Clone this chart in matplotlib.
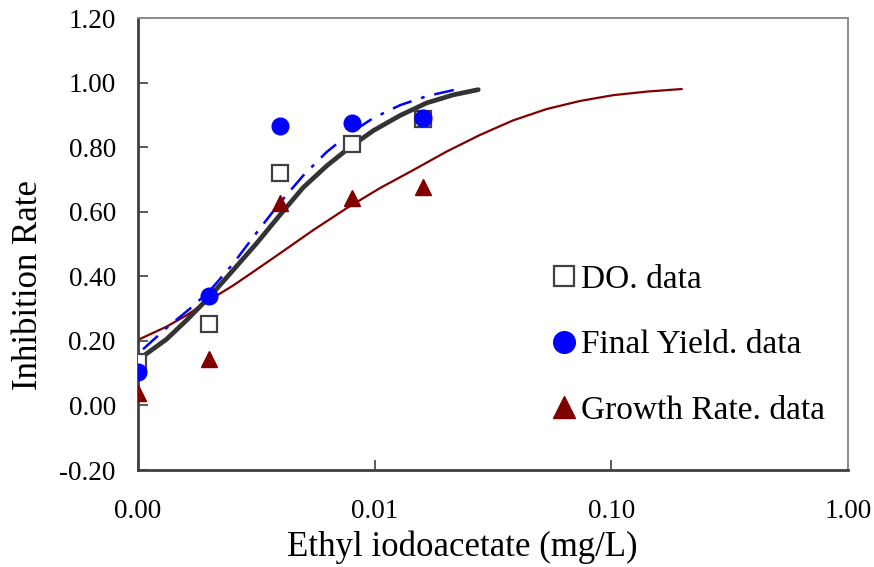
import numpy as np
import matplotlib
matplotlib.use("Agg")
import matplotlib.pyplot as plt
from matplotlib.ticker import FixedLocator, NullLocator

# Inhibition rate vs Ethyl iodoacetate concentration (log x)

plt.rcParams['font.family'] = ['Liberation Serif', 'DejaVu Serif']

# measured points
conc = [0.001, 0.002, 0.004, 0.008, 0.016]
do_data = [0.136, 0.252, 0.719, 0.810, 0.886]
yield_data = [0.105, 0.339, 0.866, 0.874, 0.891]
growth_data = [0.038, 0.144, 0.626, 0.642, 0.678]

# fitted curves
do_fit_x = [0.001, 0.00132, 0.00161, 0.00201, 0.00253, 0.00317, 0.00398, 0.00499,
            0.00627, 0.00787, 0.00986, 0.0128, 0.0166, 0.0215, 0.0274]
do_fit_y = [0.141, 0.205, 0.265, 0.337, 0.420, 0.502, 0.590, 0.675,
            0.742, 0.800, 0.851, 0.898, 0.937, 0.962, 0.978]

yield_fit_x = [0.00105, 0.00132, 0.00166, 0.00201, 0.00253, 0.00317, 0.00398, 0.00499,
               0.00627, 0.00787, 0.00986, 0.0128, 0.0166, 0.0222]
yield_fit_y = [0.174, 0.240, 0.300, 0.355, 0.440, 0.535, 0.628, 0.712,
               0.785, 0.843, 0.890, 0.930, 0.958, 0.979]

growth_fit_x = [0.001, 0.00132, 0.00161, 0.00201, 0.00253, 0.00317, 0.00398, 0.0055,
                0.00762, 0.01052, 0.01456, 0.0201, 0.0279, 0.0385, 0.0533, 0.0737,
                0.1019, 0.141, 0.198]
growth_fit_y = [0.203, 0.244, 0.280, 0.327, 0.372, 0.421, 0.471, 0.543,
                0.611, 0.673, 0.729, 0.786, 0.838, 0.883, 0.918, 0.943,
                0.961, 0.972, 0.980]

x_ticks = [0.001, 0.01, 0.1, 1.0]
x_labels = ["0.00", "0.01", "0.10", "1.00"]
y_ticks = [-0.20, 0.00, 0.20, 0.40, 0.60, 0.80, 1.00, 1.20]

fig = plt.figure(figsize=(8.74, 5.67), dpi=100)
ax = fig.add_axes([138 / 874, 1 - 470 / 567, 710 / 874, 452 / 567])

dark = "#404040"
red = "#800000"

# curves
ax.plot(growth_fit_x, growth_fit_y, color=red, lw=1.6, zorder=2)
ax.plot(do_fit_x, do_fit_y, color="#333333", lw=3.4, solid_capstyle="round",
        solid_joinstyle="round", zorder=3)
ax.plot(yield_fit_x, yield_fit_y, color="#0000ff", lw=1.8, ls=(0, (8, 4, 1.5, 4)), zorder=4)

# data points
ax.plot(conc, do_data, ls="none", marker="s", ms=11.5, mfc="white", mec=dark, mew=1.6,
        label="DO. data", zorder=5)
ax.plot(conc, yield_data, ls="none", marker="o", ms=12, mfc="#0000ff", mec="#0000ff",
        label="Final Yield. data", zorder=6)
ax.plot(conc, growth_data, ls="none", marker="^", ms=12, mfc=red, mec=red,
        label="Growth Rate. data", zorder=5)

ax.set_xscale("log")
ax.set_xlim(0.001, 1.0)
ax.set_ylim(-0.20, 1.20)
ax.xaxis.set_major_locator(FixedLocator(x_ticks))
ax.xaxis.set_minor_locator(NullLocator())
ax.set_xticklabels(x_labels)
ax.set_yticks(y_ticks)
ax.set_yticklabels(["%.2f" % v for v in y_ticks])

ax.tick_params(direction="in", length=7, width=1.2, color=dark, labelsize=19.5)
ax.tick_params(axis="y", pad=16)
ax.tick_params(axis="x", pad=21)

for s in ["left", "bottom"]:
    ax.spines[s].set_color(dark)
    ax.spines[s].set_linewidth(2)
for s in ["top", "right"]:
    ax.spines[s].set_color("#8c8c8c")
    ax.spines[s].set_linewidth(1.4)

ax.set_xlabel("Ethyl iodoacetate (mg/L)", fontsize=25)
ax.set_ylabel("Inhibition Rate", fontsize=25)
ax.xaxis.set_label_coords(0.456, -0.133)
ax.yaxis.set_label_coords(-0.131, 0.41)

ax.legend(loc="upper left", bbox_to_anchor=(0.565, 0.4845), frameon=False, fontsize=24,
          handlelength=0.7, handletextpad=0.15, labelspacing=1.05, borderaxespad=0,
          markerscale=1.3)

fig.savefig("out.png", dpi=100)
